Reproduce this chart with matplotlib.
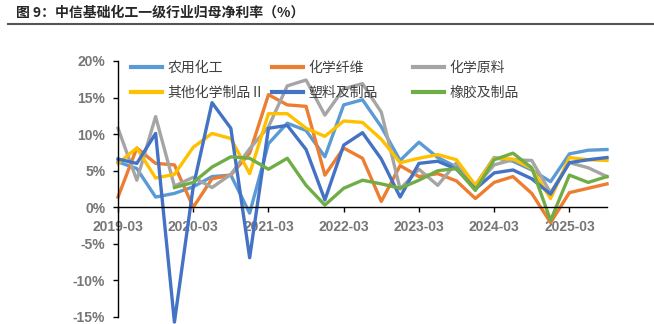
import matplotlib
matplotlib.use('Agg')
import matplotlib.pyplot as plt
import numpy as np

plt.rcParams['font.family'] = ['Liberation Sans', 'Noto Sans CJK SC', 'DejaVu Sans']

quarters = ['2019-03', '2019-06', '2019-09', '2019-12',
            '2020-03', '2020-06', '2020-09', '2020-12',
            '2021-03', '2021-06', '2021-09', '2021-12',
            '2022-03', '2022-06', '2022-09', '2022-12',
            '2023-03', '2023-06', '2023-09', '2023-12',
            '2024-03', '2024-06', '2024-09', '2024-12',
            '2025-03', '2025-06', '2025-09']
tick_labels = ['2019-03', '2020-03', '2021-03', '2022-03', '2023-03', '2024-03', '2025-03']

# net margin attributable to parent, %
agro = [6.2, 5.3, 1.4, 1.9, 2.8, 4.2, 4.4, -0.8, 8.7, 11.5, 10.5, 6.9, 14.0, 14.7,
        11.0, 6.4, 8.9, 6.8, 5.5, 3.0, 6.8, 6.3, 5.1, 3.5, 7.3, 7.8, 7.9]
fiber = [1.4, 8.1, 6.0, 5.8, 0.0, 3.9, 4.4, 7.4, 15.4, 14.0, 13.8, 4.4, 8.1, 6.7,
         0.8, 5.7, 4.2, 4.6, 3.6, 1.2, 3.4, 4.2, 1.9, -2.1, 2.0, 2.6, 3.2]
raw = [10.8, 3.7, 12.4, 2.9, 4.1, 2.7, 4.5, 8.0, 11.0, 16.6, 17.4, 12.6, 16.2, 16.9,
       13.0, 2.5, 5.2, 3.0, 6.1, 2.8, 5.8, 6.5, 6.4, 2.0, 6.1, 5.4, 4.2]
other = [6.0, 8.1, 4.0, 4.5, 8.2, 10.1, 9.4, 4.6, 12.8, 12.8, 10.8, 9.7, 11.8, 11.6,
         9.3, 6.1, 6.7, 7.2, 6.5, 3.0, 6.7, 6.6, 5.3, 1.2, 6.8, 6.5, 6.4]
plastic = [6.6, 6.0, 10.1, -15.7, 2.8, 14.3, 10.8, -6.9, 10.8, 11.2, 7.9, 1.0, 8.5, 10.2,
           6.6, 1.4, 6.0, 6.3, 5.2, 2.5, 4.7, 5.1, 3.9, 1.8, 6.1, 6.5, 6.8]
rubber = [np.nan, np.nan, np.nan, 2.7, 3.4, 5.5, 6.9, 6.7, 5.2, 6.7, 3.0, 0.3, 2.6, 3.7,
          3.2, 2.6, 3.7, 5.0, 5.3, 2.3, 6.5, 7.4, 5.4, -1.8, 4.4, 3.4, 4.2]

names = ['农用化工', '化学纤维', '化学原料', '其他化学制品Ⅱ', '塑料及制品', '橡胶及制品']
series = [agro, fiber, raw, other, plastic, rubber]
colors = ['#5B9BD5', '#ED7D31', '#A5A5A5', '#FFC000', '#4472C4', '#70AD47']

fig = plt.figure(figsize=(6.54, 3.24), dpi=100)
W, H = 654, 324
ax = fig.add_axes([118 / W, 1 - 317 / H, (607 - 118) / W, (317 - 61) / H])

x = np.arange(len(quarters))
lines = []
for name, ys, c in zip(names, series, colors):
    ln, = ax.plot(x, ys, color=c, lw=2.4, label=name, clip_on=False)
    lines.append(ln)

ax.set_xlim(0, len(quarters) - 1)
ax.set_ylim(-15, 20)
ax.set_yticks(np.arange(-15, 21, 5))
ax.set_yticklabels(['%d%%' % v for v in np.arange(-15, 21, 5)])
ax.set_xticks([quarters.index(t) for t in tick_labels])
ax.set_xticklabels(tick_labels)

for s in ['top', 'right']:
    ax.spines[s].set_visible(False)
ax.spines['bottom'].set_position(('data', 0))
for s in ['left', 'bottom']:
    ax.spines[s].set_linewidth(1.0)
    ax.spines[s].set_color('black')
ax.tick_params(axis='both', direction='out', length=3.6, width=1.0, color='black',
               labelsize=10, labelcolor='#767676', pad=5.5)
for lab in ax.get_xticklabels() + ax.get_yticklabels():
    lab.set_fontweight('bold')

# legend: three equal-width columns of two entries
cols = [(0, 3), (1, 4), (2, 5)]
col_left = [131, 272, 413]
for (a, b), xl in zip(cols, col_left):
    leg = fig.legend([lines[a], lines[b]], [names[a], names[b]],
                     loc='upper left', bbox_to_anchor=(xl / W, 1 - 61 / H),
                     frameon=False, borderpad=0, borderaxespad=0,
                     handlelength=2.2, handletextpad=0.45, labelspacing=0.8,
                     prop={'family': ['Noto Sans CJK SC'], 'size': 10})
    for t in leg.get_texts():
        t.set_color('#404040')
    for h in leg.get_lines():
        h.set_linewidth(3.0)

fig.text(16 / W, 1 - 13 / H, '图 9：中信基础化工一级行业归母净利率（%）',
         ha='left', va='center', fontsize=10, fontweight='bold', color='#262626',
         family=['Noto Sans CJK SC'])
fig.add_artist(plt.Line2D([8 / W, 1], [1 - 24 / H, 1 - 24 / H], color='#555555', lw=1.5))

fig.savefig('out.png', dpi=100)
